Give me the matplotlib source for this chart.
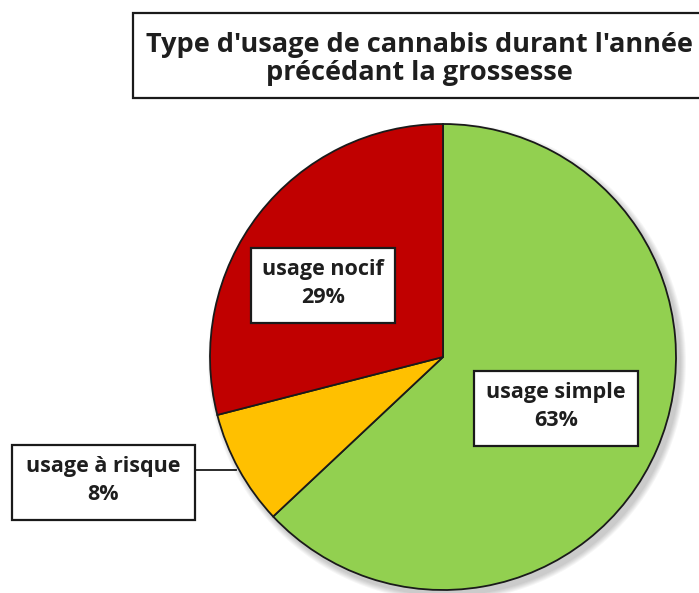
import matplotlib.pyplot as plt
from matplotlib.patches import Rectangle, Circle

# data
labels = ["usage simple", "usage à risque", "usage nocif"]
values = [63, 8, 29]
colors = ["#92D050", "#FFC000", "#C00000"]
title = "Type d'usage de cannabis durant l'année\nprécédant la grossesse"

W, H = 699, 593
fig = plt.figure(figsize=(W / 100, H / 100), dpi=100)
ax = fig.add_axes([0, 0, 1, 1])

cx, cy, r = 443, H - 357, 233

# soft shadow below the pie
for k in range(6):
    ax.add_patch(Circle((cx + 4, cy - 5), r + 1 + k, color="#000000",
                        alpha=0.035, lw=0, zorder=0))

ax.pie(values, colors=colors, startangle=90, counterclock=False,
       center=(cx, cy), radius=r, frame=True,
       wedgeprops=dict(edgecolor="#1a1a1a", linewidth=1.3))
ax.set_xlim(0, W)
ax.set_ylim(0, H)
ax.set_aspect("equal")
ax.axis("off")

font = dict(family="Open Sans", fontweight="bold", color="#1e1e1e")

# title box
ax.add_patch(Rectangle((133, H - 98), 600, 85, facecolor="white",
                       edgecolor="#1a1a1a", linewidth=1.6, zorder=3))
ax.text(419, H - 59, title, ha="center", va="center", fontsize=19.5,
        linespacing=1.08, zorder=4, **font)

# label boxes (left, top, right, bottom in pixels)
boxes = [(474, 371, 638, 446), (12, 445, 195, 520), (251, 248, 395, 323)]
for lab, v, (x0, y0, x1, y1) in zip(labels, values, boxes):
    ax.add_patch(Rectangle((x0, H - y1), x1 - x0, y1 - y0, facecolor="white",
                           edgecolor="#1a1a1a", linewidth=1.6, zorder=5))
    ax.text((x0 + x1) / 2, H - (y0 + y1) / 2 + 2, f"{lab}\n{v}%",
            ha="center", va="center", fontsize=15.5, linespacing=1.45,
            zorder=6, **font)

# leader line for the small slice
ax.plot([195, 236], [H - 470, H - 470], color="#1a1a1a", lw=1.3, zorder=4)

fig.savefig("out.png", dpi=100)
